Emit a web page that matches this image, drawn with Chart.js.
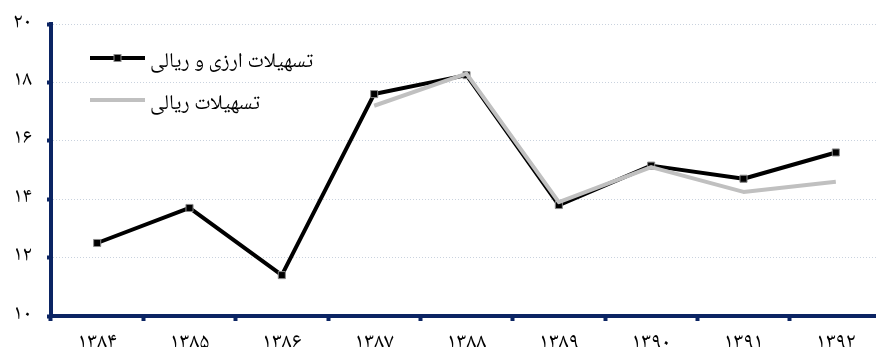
<!DOCTYPE html>
<html lang="fa">
<head>
<meta charset="utf-8">
<title>تسهیلات</title>
<script src="https://cdn.jsdelivr.net/npm/chart.js@4/dist/chart.umd.min.js"></script>
<style>
  html, body { margin: 0; padding: 0; background: #ffffff; overflow: hidden; }
  #wrap { width: 888px; height: 347px; }
</style>
</head>
<body>
<div id="wrap"><canvas id="chart" width="888" height="347"></canvas></div>
<script>
// Years (Solar Hijri) on the horizontal axis
const years = ['۱۳۸۴', '۱۳۸۵', '۱۳۸۶', '۱۳۸۷', '۱۳۸۸', '۱۳۸۹', '۱۳۹۰', '۱۳۹۱', '۱۳۹۲'];

// Series values
const totalFacilities = [12.5, 13.7, 11.4, 17.6, 18.25, 13.8, 15.15, 14.7, 15.6];
const rialFacilities  = [null, null, null, 17.2, 18.3, 13.9, 15.1, 14.25, 14.6];

// Series names
const seriesNames = ['تسهیلات ارزی و ریالی', 'تسهیلات ریالی'];

// Vertical axis range and step
const yMin = 10;
const yMax = 20;
const yStep = 2;

const FONT = "'Noto Naskh Arabic', 'Noto Sans Arabic', 'DejaVu Sans', sans-serif";
const NAVY = '#0b2463';
const faDigits = '۰۱۲۳۴۵۶۷۸۹';
const toFa = s => String(s).replace(/[0-9]/g, d => faDigits[+d]);

// Legend drawn inside the plot area, top-left
const innerLegend = {
  id: 'innerLegend',
  afterDatasetsDraw(chart) {
    const { ctx, chartArea } = chart;
    const x0 = chartArea.left + 39;
    const x1 = x0 + 55;
    const rows = [
      { y: chartArea.top + 34, ds: chart.data.datasets[1] },
      { y: chartArea.top + 76, ds: chart.data.datasets[0] }
    ];
    ctx.save();
    rows.forEach(r => {
      ctx.beginPath();
      ctx.lineWidth = r.ds.borderWidth;
      ctx.strokeStyle = r.ds.borderColor;
      ctx.moveTo(x0, r.y);
      ctx.lineTo(x1, r.y);
      ctx.stroke();
      if (r.ds.pointRadius > 0) {
        const s = 7;
        ctx.fillStyle = r.ds.pointBackgroundColor;
        ctx.strokeStyle = r.ds.pointBorderColor;
        ctx.lineWidth = 1;
        ctx.fillRect((x0 + x1) / 2 - s / 2, r.y - s / 2, s, s);
        ctx.strokeRect((x0 + x1) / 2 - s / 2, r.y - s / 2, s, s);
      }
      ctx.font = '21px ' + FONT;
      ctx.fillStyle = '#000000';
      ctx.direction = 'rtl';
      ctx.textAlign = 'left';
      ctx.textBaseline = 'middle';
      ctx.fillText(r.ds.label, x1 + 5, r.y + 6);
    });
    ctx.restore();
  }
};

new Chart(document.getElementById('chart'), {
  type: 'line',
  data: {
    labels: years,
    datasets: [
      {
        label: seriesNames[1],
        data: rialFacilities,
        borderColor: '#c0c0c0',
        backgroundColor: '#c0c0c0',
        borderWidth: 4,
        pointRadius: 0,
        pointHoverRadius: 0,
        borderJoinStyle: 'round',
        spanGaps: false,
        order: 0
      },
      {
        label: seriesNames[0],
        data: totalFacilities,
        borderColor: '#000000',
        backgroundColor: '#000000',
        borderWidth: 4,
        pointStyle: 'rect',
        pointRadius: 5,
        pointBackgroundColor: '#000000',
        pointBorderColor: '#8a8a8a',
        pointBorderWidth: 1,
        borderJoinStyle: 'round',
        order: 1
      }
    ]
  },
  options: {
    responsive: false,
    animation: false,
    events: [],
    layout: { padding: { top: 24, right: 2, left: 0, bottom: 0 } },
    plugins: {
      legend: { display: false },
      tooltip: { enabled: false }
    },
    scales: {
      x: {
        offset: true,
        afterFit(scale) { scale.height = 31; },
        grid: {
          offset: true,
          drawOnChartArea: false,
          drawTicks: true,
          tickLength: 5,
          tickWidth: 4,
          tickColor: NAVY
        },
        border: { display: true, color: NAVY, width: 4 },
        ticks: {
          color: '#000000',
          padding: 11,
          maxRotation: 0,
          autoSkip: false,
          font: { family: FONT, size: 22 }
        }
      },
      y: {
        min: yMin,
        max: yMax,
        afterFit(scale) { scale.width = 51; },
        grid: {
          color: ctx => (ctx.tick && ctx.tick.value === yMin) ? 'rgba(0,0,0,0)' : '#c9d2de',
          lineWidth: 1,
          drawTicks: true,
          tickLength: 4,
          tickWidth: 4,
          tickColor: NAVY
        },
        border: { display: true, color: NAVY, width: 4, dash: [1, 2] },
        ticks: {
          stepSize: yStep,
          color: '#000000',
          padding: 15,
          font: { family: FONT, size: 21, lineHeight: 0.6 },
          callback: v => toFa(v)
        }
      }
    }
  },
  plugins: [innerLegend]
});
</script>
</body>
</html>
